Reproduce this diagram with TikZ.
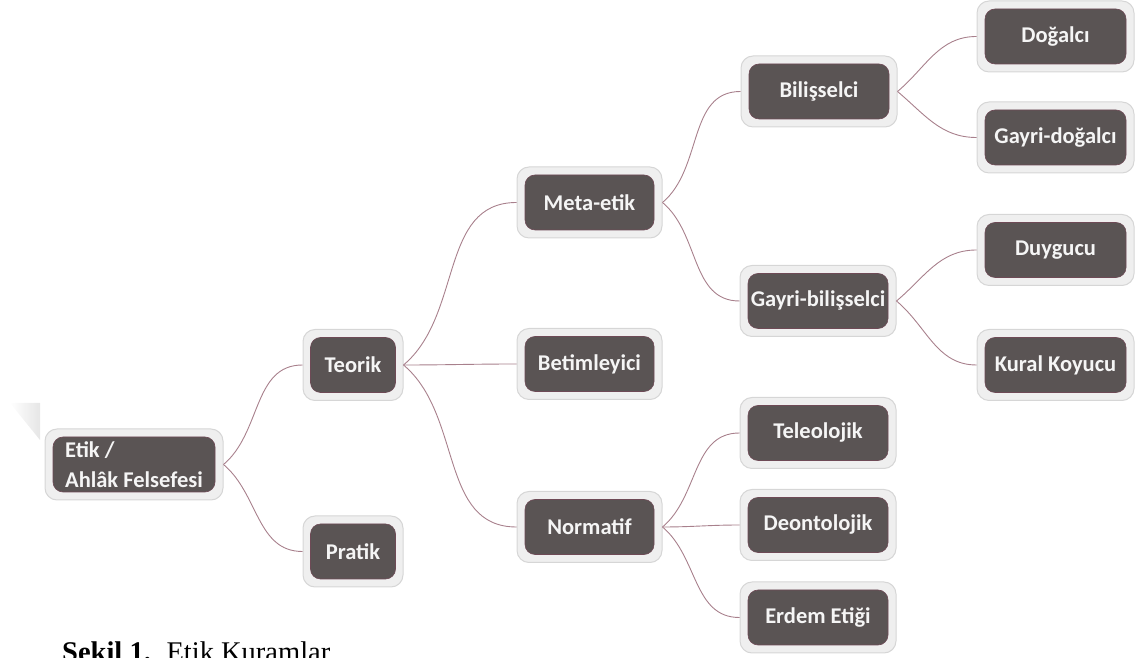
\documentclass[tikz,border=0pt]{standalone}
\usepackage{fontspec}
\setmainfont{Carlito}
\newfontfamily\capfont{Liberation Serif}
\definecolor{outerfill}{HTML}{EFEFEF}
\definecolor{outerline}{HTML}{D6D6D6}
\definecolor{innerfill}{HTML}{5A5454}
\definecolor{innerline}{HTML}{6E4A56}
\definecolor{linkcol}{HTML}{A8808C}
\definecolor{tri}{HTML}{E6E6E6}
\begin{document}
\begin{tikzpicture}[x=1pt,y=1pt,
  obox/.style={draw=outerline, fill=outerfill, line width=1pt, rounded corners=12pt, minimum height=71pt, inner sep=0pt},
  ibox/.style={draw=innerline, fill=innerfill, line width=0.6pt, rounded corners=10pt, minimum height=55pt, inner sep=0pt, text=white!96!black, font=\bfseries\fontsize{22.5}{30}\selectfont},
  c1/.style={minimum width=100pt}, c1i/.style={minimum width=85pt},
  c2/.style={minimum width=145pt}, c2i/.style={minimum width=129pt},
  c3/.style={minimum width=156pt}, c3i/.style={minimum width=140pt},
  c4/.style={minimum width=157pt}, c4i/.style={minimum width=141pt},
  link/.style={draw=linkcol, line width=0.9pt}]
\clip (0,0) rectangle (1137,658);
\shade[left color=white, right color=tri] (10,255) -- (40,255) -- (40,218) -- cycle;
% root
\node[obox, minimum width=178pt] (root) at (134,193.5) {};
\node[ibox, minimum width=162pt, align=left] (rooti) at (root) {Etik /\\Ahlâk Felsefesi};
% column 1
\node[obox, c1] (teorik) at (353,293) {};
\node[ibox, c1i] (teoriki) at (teorik) {Teorik};
\node[obox, c1] (pratik) at (353,106.5) {};
\node[ibox, c1i] (pratiki) at (pratik) {Pratik};
% column 2
\node[obox, c2] (meta) at (589.5,455.5) {};
\node[ibox, c2i] (metai) at (meta) {Meta-etik};
\node[obox, c2] (betim) at (589.5,294) {};
\node[ibox, c2i] (betimi) at (betim) {Betimleyici};
\node[obox, c2] (norm) at (589.5,131) {};
\node[ibox, c2i] (normi) at (norm) {Normatif};
% column 3
\node[obox, c3] (bilis) at (819,566.5) {};
\node[ibox, c3i] (bilisi) at (bilis) {Bilişselci};
\node[obox, c3] (gbilis) at (818,357) {};
\node[ibox, c3i] (gbilisi) at (gbilis) {Gayri-bilişselci};
\node[obox, c3] (teleo) at (818,225) {};
\node[ibox, c3i] (teleoi) at (teleo) {Teleolojik};
\node[obox, c3] (deon) at (818,133) {};
\node[ibox, c3i] (deoni) at (deon) {Deontolojik};
\node[obox, c3] (erdem) at (818,40.5) {};
\node[ibox, c3i] (erdemi) at (erdem) {Erdem Etiği};
% column 4
\node[obox, c4] (dogal) at (1055.5,621.5) {};
\node[ibox, c4i] (dogali) at (dogal) {Doğalcı};
\node[obox, c4] (gdogal) at (1055.5,520.5) {};
\node[ibox, c4i] (gdogali) at (gdogal) {Gayri-doğalcı};
\node[obox, c4] (duygu) at (1055.5,408) {};
\node[ibox, c4i] (duygui) at (duygu) {Duygucu};
\node[obox, c4] (kural) at (1055.5,293) {};
\node[ibox, c4i] (kurali) at (kural) {Kural Koyucu};
% links
\draw[link] (root.east) to[out=40,in=180] (teorik.west);
\draw[link] (root.east) to[out=-40,in=180] (pratik.west);
\draw[link] (teorik.east) to[out=40,in=180] (meta.west);
\draw[link] (teorik.east) to[out=0,in=180] (betim.west);
\draw[link] (teorik.east) to[out=-40,in=180] (norm.west);
\draw[link] (meta.east) to[out=40,in=180] (bilis.west);
\draw[link] (meta.east) to[out=-40,in=180] (gbilis.west);
\draw[link] (norm.east) to[out=40,in=180] (teleo.west);
\draw[link] (norm.east) to[out=0,in=180] (deon.west);
\draw[link] (norm.east) to[out=-40,in=180] (erdem.west);
\draw[link] (bilis.east) to[out=40,in=180] (dogal.west);
\draw[link] (bilis.east) to[out=-40,in=180] (gdogal.west);
\draw[link] (gbilis.east) to[out=40,in=180] (duygu.west);
\draw[link] (gbilis.east) to[out=-40,in=180] (kural.west);
% caption
\node[anchor=base west, inner sep=0pt, font=\capfont\fontsize{28.5}{34}\selectfont] (caption) at (62,-4) {\textbf{Şekil 1.}\hspace{0.55em}Etik Kuramlar};
\end{tikzpicture}
\end{document}
